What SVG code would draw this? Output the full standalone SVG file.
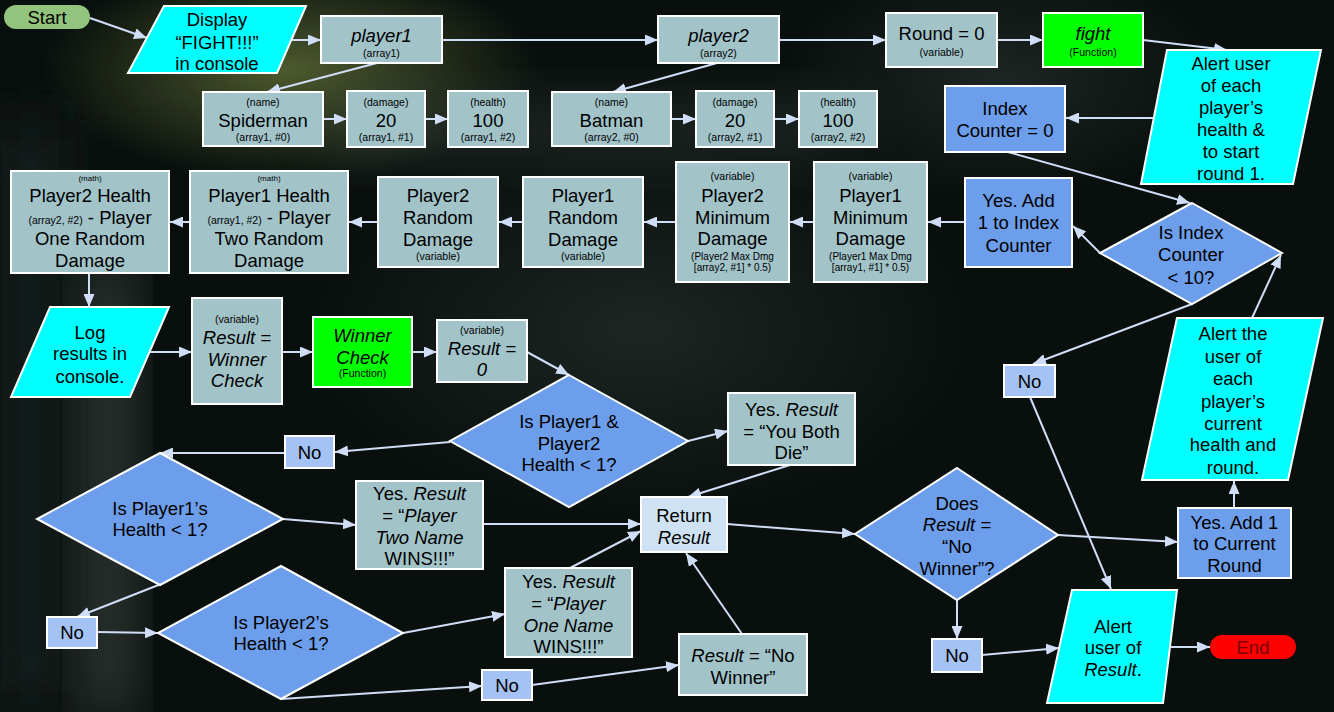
<svg xmlns="http://www.w3.org/2000/svg" width="1334" height="712" viewBox="0 0 1334 712">
<defs>
<style>
text{font-family:"Liberation Sans",Arial,sans-serif;fill:#000;text-anchor:middle}
.t{font-size:18.5px}
.s{font-size:10.5px}
.xs{font-size:8px}
.sm{font-size:10px}
.i{font-style:italic}
.bx{stroke:#fff;stroke-width:2}
.g{fill:#a2c4c9}
.cy{fill:#00ffff}
.gr{fill:#00ff00}
.bl{fill:#6d9eeb}
.lb{fill:#a4c2f4}
.pb{fill:#cfe2f3}
#connectors line{stroke:#d0ddf6;stroke-width:2;fill:none;marker-end:url(#ah)}
</style>
<marker id="ah" viewBox="0 0 13 11" refX="13" refY="5.5" markerWidth="13" markerHeight="11" markerUnits="userSpaceOnUse" orient="auto">
<path d="M0,0 L13,5.5 L0,11 z" fill="#d0ddf6"/>
</marker>
<filter id="blur" x="-50%" y="-50%" width="200%" height="200%"><feGaussianBlur stdDeviation="28"/></filter>
<radialGradient id="glow1" cx="0.5" cy="0.5" r="0.5"><stop offset="0" stop-color="#6b7a3c" stop-opacity="0.7"/><stop offset="1" stop-color="#6b7a3c" stop-opacity="0"/></radialGradient>
<radialGradient id="glow2" cx="0.5" cy="0.5" r="0.5"><stop offset="0" stop-color="#34423e" stop-opacity="0.45"/><stop offset="1" stop-color="#34423e" stop-opacity="0"/></radialGradient>
</defs>
<g id="background">
<rect x="0" y="0" width="1334" height="712" fill="#090f0d"/>
<ellipse cx="290" cy="70" rx="250" ry="110" fill="url(#glow1)"/>
<ellipse cx="640" cy="330" rx="330" ry="190" fill="url(#glow2)"/>
<ellipse cx="1000" cy="80" rx="220" ry="120" fill="url(#glow2)"/>
<rect x="85" y="260" width="45" height="460" fill="#5d6863" opacity="0.55" filter="url(#blur)"/>
<rect x="0" y="120" width="60" height="592" fill="#1a2825" opacity="0.7" filter="url(#blur)"/>
<rect x="330" y="100" width="520" height="60" fill="#3c4a45" opacity="0.4" filter="url(#blur)"/>
</g>
<g id="connectors">
<line x1="90" y1="18" x2="147" y2="38"/>
<line x1="291" y1="40" x2="321" y2="40"/>
<line x1="442" y1="40" x2="658" y2="40"/>
<line x1="779" y1="40" x2="886" y2="40"/>
<line x1="997" y1="40" x2="1043" y2="40"/>
<line x1="1143" y1="40" x2="1227" y2="50"/>
<line x1="377" y1="63" x2="267" y2="92"/>
<line x1="323" y1="119" x2="347" y2="119"/>
<line x1="425" y1="119" x2="448" y2="119"/>
<line x1="717" y1="63" x2="613" y2="92"/>
<line x1="671" y1="119" x2="696" y2="119"/>
<line x1="774" y1="119" x2="799" y2="119"/>
<line x1="1154" y1="118" x2="1066" y2="118"/>
<line x1="1008" y1="152" x2="1190" y2="203"/>
<line x1="1100" y1="253" x2="1073" y2="226"/>
<line x1="965" y1="222" x2="928" y2="222"/>
<line x1="814" y1="222" x2="790" y2="222"/>
<line x1="676" y1="222" x2="644" y2="222"/>
<line x1="523" y1="222" x2="499" y2="222"/>
<line x1="378" y1="222" x2="349" y2="222"/>
<line x1="190" y1="222" x2="170" y2="222"/>
<line x1="89" y1="273" x2="89" y2="307"/>
<line x1="150" y1="352" x2="192" y2="352"/>
<line x1="282" y1="352" x2="313" y2="352"/>
<line x1="412" y1="352" x2="437" y2="352"/>
<line x1="527" y1="352" x2="569" y2="375"/>
<line x1="450" y1="442" x2="335" y2="452"/>
<line x1="285" y1="453" x2="160" y2="453"/>
<line x1="283" y1="519" x2="356" y2="525"/>
<line x1="161" y1="584" x2="77" y2="617"/>
<line x1="97" y1="632" x2="158" y2="633"/>
<line x1="403" y1="633" x2="505" y2="614"/>
<line x1="281" y1="699" x2="482" y2="686"/>
<line x1="532" y1="685" x2="679" y2="665"/>
<line x1="742" y1="634" x2="686" y2="553"/>
<line x1="570" y1="568" x2="641" y2="531"/>
<line x1="483" y1="524" x2="641" y2="524"/>
<line x1="688" y1="441" x2="728" y2="431"/>
<line x1="790" y1="465" x2="688" y2="497"/>
<line x1="727" y1="524" x2="855" y2="534"/>
<line x1="1058" y1="535" x2="1178" y2="542"/>
<line x1="1234" y1="508" x2="1234" y2="481"/>
<line x1="1252" y1="318" x2="1281" y2="255"/>
<line x1="1192" y1="304" x2="1033" y2="364"/>
<line x1="1030" y1="397" x2="1111" y2="589"/>
<line x1="957" y1="600" x2="957" y2="639"/>
<line x1="982" y1="655" x2="1059" y2="648"/>
<line x1="1170" y1="647" x2="1210" y2="647"/>
</g>
<g id="start"><rect x="4" y="5" width="86" height="24" rx="12" fill="#93c47d"/><text class="t" x="47" y="23.5">Start</text></g>
<g id="display"><polygon class="bx cy" points="164,6 306,6 277,73 128,73"/><text class="t" x="217" y="26">Display</text><text class="t" x="217" y="48.5">“FIGHT!!!”</text><text class="t" x="217" y="70">in console</text></g>
<g id="player1"><rect class="bx g" x="321" y="16" width="121" height="47"/><text class="t i" x="381.5" y="41.5">player1</text><text class="s" x="381.5" y="57">(array1)</text></g>
<g id="player2"><rect class="bx g" x="658" y="16" width="121" height="47"/><text class="t i" x="718.5" y="41.5">player2</text><text class="s" x="718.5" y="57">(array2)</text></g>
<g id="round0"><rect class="bx g" x="886" y="13" width="111" height="54"/><text class="t" x="941.5" y="39.5">Round = 0</text><text class="s" x="941.5" y="56">(variable)</text></g>
<g id="fight"><rect class="bx gr" x="1043" y="13" width="100" height="54"/><text class="t i" x="1093" y="39.5">fight</text><text class="s" x="1093" y="56">(Function)</text></g>
<g id="alert-start"><polygon class="bx cy" points="1167,50 1321,50 1293,184 1141,184"/><text class="t" x="1231" y="69.5">Alert user</text><text class="t" x="1231" y="91.5">of each</text><text class="t" x="1231" y="114">player’s</text><text class="t" x="1231" y="136">health &amp;</text><text class="t" x="1231" y="158">to start</text><text class="t" x="1231" y="180">round 1.</text></g>
<g id="spiderman"><rect class="bx g" x="203" y="92" width="120" height="54"/><text class="s" x="263" y="106">(name)</text><text class="t" x="263" y="126.5">Spiderman</text><text class="s" x="263" y="141">(array1, #0)</text></g>
<g id="dmg1"><rect class="bx g" x="347" y="91" width="78" height="56"/><text class="s" x="386" y="106">(damage)</text><text class="t" x="386" y="126.5">20</text><text class="s" x="386" y="141">(array1, #1)</text></g>
<g id="hp1"><rect class="bx g" x="448" y="91" width="80" height="56"/><text class="s" x="488" y="106">(health)</text><text class="t" x="488" y="126.5">100</text><text class="s" x="488" y="141">(array1, #2)</text></g>
<g id="batman"><rect class="bx g" x="552" y="92" width="119" height="54"/><text class="s" x="611.5" y="106">(name)</text><text class="t" x="611.5" y="126.5">Batman</text><text class="s" x="611.5" y="141">(array2, #0)</text></g>
<g id="dmg2"><rect class="bx g" x="696" y="91" width="78" height="56"/><text class="s" x="735" y="106">(damage)</text><text class="t" x="735" y="126.5">20</text><text class="s" x="735" y="141">(array2, #1)</text></g>
<g id="hp2"><rect class="bx g" x="799" y="91" width="78" height="56"/><text class="s" x="838" y="106">(health)</text><text class="t" x="838" y="126.5">100</text><text class="s" x="838" y="141">(array2, #2)</text></g>
<g id="index0"><rect class="bx bl" x="945" y="86" width="120" height="66"/><text class="t" x="1005" y="114.5">Index</text><text class="t" x="1005" y="136.5">Counter = 0</text></g>
<g id="is-index"><polygon class="bx bl" points="1192,203 1282,253 1192,304 1100,253"/><text class="t" x="1191" y="238.5">Is Index</text><text class="t" x="1191" y="261">Counter</text><text class="t" x="1191" y="283.5">&lt; 10?</text></g>
<g id="add-index"><rect class="bx bl" x="965" y="178" width="107" height="89"/><text class="t" x="1018.5" y="206.5">Yes. Add</text><text class="t" x="1018.5" y="228.5">1 to Index</text><text class="t" x="1018.5" y="251.5">Counter</text></g>
<g id="p1min"><rect class="bx g" x="814" y="162" width="113" height="120"/><text class="s" x="870.5" y="180">(variable)</text><text class="t" x="870.5" y="201.5">Player1</text><text class="t" x="870.5" y="223.5">Minimum</text><text class="t" x="870.5" y="244.5">Damage</text><text class="sm" x="870.5" y="259.5">(Player1 Max Dmg</text><text class="sm" x="870.5" y="271">[array1, #1] * 0.5)</text></g>
<g id="p2min"><rect class="bx g" x="676" y="162" width="113" height="120"/><text class="s" x="732.5" y="180">(variable)</text><text class="t" x="732.5" y="201.5">Player2</text><text class="t" x="732.5" y="223.5">Minimum</text><text class="t" x="732.5" y="244.5">Damage</text><text class="sm" x="732.5" y="259.5">(Player2 Max Dmg</text><text class="sm" x="732.5" y="271">[array2, #1] * 0.5)</text></g>
<g id="p1rand"><rect class="bx g" x="523" y="177" width="120" height="90"/><text class="t" x="583" y="201.5">Player1</text><text class="t" x="583" y="223.5">Random</text><text class="t" x="583" y="245.5">Damage</text><text class="s" x="583" y="260">(variable)</text></g>
<g id="p2rand"><rect class="bx g" x="378" y="177" width="120" height="90"/><text class="t" x="438" y="201.5">Player2</text><text class="t" x="438" y="223.5">Random</text><text class="t" x="438" y="245.5">Damage</text><text class="s" x="438" y="260">(variable)</text></g>
<g id="p1health"><rect class="bx g" x="190" y="171" width="158" height="102"/><text class="xs" x="269" y="181">(math)</text><text class="t" x="269" y="201.5">Player1 Health</text><text class="t" x="269" y="223.5"><tspan class="s">(array1, #2)</tspan> - Player</text><text class="t" x="269" y="244.5">Two Random</text><text class="t" x="269" y="266.5">Damage</text></g>
<g id="p2health"><rect class="bx g" x="11" y="171" width="158" height="102"/><text class="xs" x="90" y="181">(math)</text><text class="t" x="90" y="201.5">Player2 Health</text><text class="t" x="90" y="223.5"><tspan class="s">(array2, #2)</tspan> - Player</text><text class="t" x="90" y="244.5">One Random</text><text class="t" x="90" y="266.5">Damage</text></g>
<g id="log"><polygon class="bx cy" points="50,307 169,307 130,397 11,397"/><text class="t" x="90" y="338.5">Log</text><text class="t" x="90" y="360">results in</text><text class="t" x="90" y="382.5">console.</text></g>
<g id="result-wc"><rect class="bx g" x="192" y="298" width="90" height="106"/><text class="s" x="237" y="323">(variable)</text><text class="t i" x="237" y="343.5">Result =</text><text class="t i" x="237" y="365.5">Winner</text><text class="t i" x="237" y="386.5">Check</text></g>
<g id="winner-check"><rect class="bx gr" x="313" y="317" width="99" height="70"/><text class="t i" x="362.5" y="341.5">Winner</text><text class="t i" x="362.5" y="363.5">Check</text><text class="s" x="362.5" y="377">(Function)</text></g>
<g id="result0"><rect class="bx g" x="437" y="320" width="90" height="62"/><text class="s" x="482" y="334">(variable)</text><text class="t i" x="482" y="354.5">Result =</text><text class="t i" x="482" y="375.5">0</text></g>
<g id="both-dead"><polygon class="bx bl" points="569,375 688,441 569,507 450,441"/><text class="t" x="569" y="427.5">Is Player1 &amp;</text><text class="t" x="569" y="449.5">Player2</text><text class="t" x="569" y="470.5">Health &lt; 1?</text></g>
<g id="no1"><rect class="bx lb" x="285" y="436" width="49" height="32"/><text class="t" x="309.5" y="458.5">No</text></g>
<g id="both-die"><rect class="bx g" x="728" y="393" width="127" height="72"/><text class="t" x="791.5" y="415.5">Yes. <tspan class="i">Result</tspan></text><text class="t" x="791.5" y="437.5">= “You Both</text><text class="t" x="791.5" y="458.5">Die”</text></g>
<g id="is-p1"><polygon class="bx bl" points="160,453 283,519 160,585 37,519"/><text class="t" x="160" y="514.5">Is Player1’s</text><text class="t" x="160" y="535.5">Health &lt; 1?</text></g>
<g id="p2-wins"><rect class="bx g" x="356" y="481" width="127" height="88"/><text class="t" x="419.5" y="499.5">Yes. <tspan class="i">Result</tspan></text><text class="t" x="419.5" y="521.5">= “<tspan class="i">Player</tspan></text><text class="t i" x="419.5" y="543.5">Two Name</text><text class="t" x="419.5" y="564.5">WINS!!!”</text></g>
<g id="return"><rect class="bx pb" x="641" y="497" width="86" height="55"/><text class="t" x="684" y="521.5">Return</text><text class="t i" x="684" y="543.5">Result</text></g>
<g id="no2"><rect class="bx lb" x="47" y="617" width="50" height="31"/><text class="t" x="72" y="638.5">No</text></g>
<g id="is-p2"><polygon class="bx bl" points="281,566 403,633 281,699 158,633"/><text class="t" x="281" y="628.5">Is Player2’s</text><text class="t" x="281" y="649.5">Health &lt; 1?</text></g>
<g id="p1-wins"><rect class="bx g" x="505" y="568" width="127" height="89"/><text class="t" x="568.5" y="587.5">Yes. <tspan class="i">Result</tspan></text><text class="t" x="568.5" y="609.5">= “<tspan class="i">Player</tspan></text><text class="t i" x="568.5" y="631.5">One Name</text><text class="t" x="568.5" y="652.5">WINS!!!”</text></g>
<g id="no3"><rect class="bx lb" x="482" y="670" width="50" height="30"/><text class="t" x="507" y="691.5">No</text></g>
<g id="no-winner"><rect class="bx g" x="679" y="634" width="128" height="61"/><text class="t" x="743" y="661.5"><tspan class="i">Result</tspan> = “No</text><text class="t" x="743" y="683.5">Winner”</text></g>
<g id="does"><polygon class="bx bl" points="957,468 1058,535 957,600 855,534"/><text class="t" x="957" y="509.5">Does</text><text class="t" x="957" y="530.5"><tspan class="i">Result</tspan> =</text><text class="t" x="957" y="552.5">“No</text><text class="t" x="957" y="574.5">Winner”?</text></g>
<g id="add-round"><rect class="bx bl" x="1178" y="508" width="113" height="70"/><text class="t" x="1234.5" y="528.5">Yes. Add 1</text><text class="t" x="1234.5" y="549.5">to Current</text><text class="t" x="1234.5" y="571.5">Round</text></g>
<g id="alert-round"><polygon class="bx cy" points="1177,318 1323,318 1288,480 1142,480"/><text class="t" x="1233" y="339.5">Alert the</text><text class="t" x="1233" y="362.5">user of</text><text class="t" x="1233" y="384.5">each</text><text class="t" x="1233" y="407.5">player’s</text><text class="t" x="1233" y="429.5">current</text><text class="t" x="1233" y="450.5">health and</text><text class="t" x="1233" y="473.5">round.</text></g>
<g id="no4"><rect class="bx lb" x="1004" y="365" width="51" height="32"/><text class="t" x="1029.5" y="387.5">No</text></g>
<g id="no5"><rect class="bx lb" x="932" y="639" width="50" height="33"/><text class="t" x="957" y="661.5">No</text></g>
<g id="alert-result"><polygon class="bx cy" points="1072,590 1177,590 1163,703 1047,703"/><text class="t" x="1113" y="632.5">Alert</text><text class="t" x="1113" y="653.5">user of</text><text class="t" x="1113" y="675.5"><tspan class="i">Result</tspan>.</text></g>
<g id="end"><rect x="1210" y="635" width="86" height="24" rx="12" fill="#ff0000"/><text class="t" x="1253" y="653.5" style="fill:#7a0000">End</text></g>
</svg>
